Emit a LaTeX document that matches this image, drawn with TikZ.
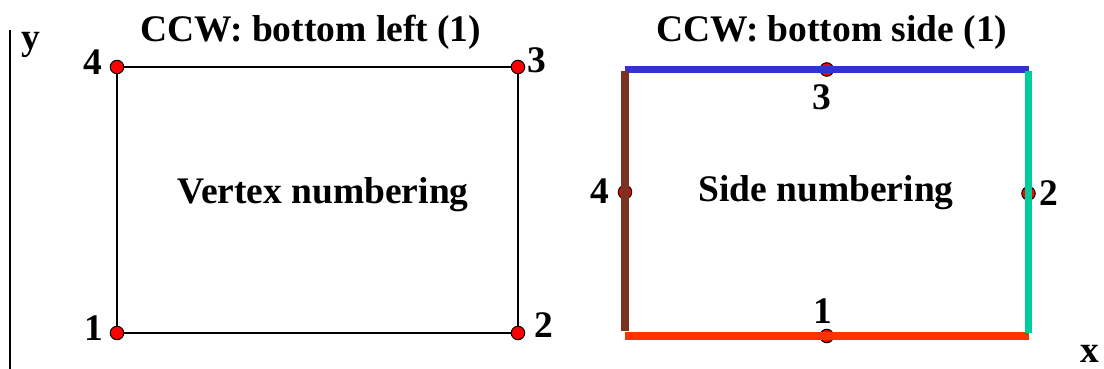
\documentclass[tikz,border=0pt]{standalone}
\usepackage{fontspec}
\setmainfont{Liberation Serif}
\usetikzlibrary{calc}
\definecolor{sideblue}{RGB}{51,51,204}
\definecolor{sidered}{RGB}{255,51,0}
\definecolor{sidebrown}{RGB}{122,51,34}
\definecolor{sidegreen}{RGB}{0,204,153}
\begin{document}
\begin{tikzpicture}[x=1pt,y=-1pt,
  lbl/.style={anchor=base,inner sep=0pt,font=\fontsize{37.5}{40}\selectfont\bfseries},
  dot/.style={circle,draw=black,fill=red,line width=1pt,minimum size=13.5pt,inner sep=0pt},
  edge/.style={draw=black,line width=1.6pt},
  side/.style={line width=7.5pt},
  axis/.style={draw=black,line width=1.6pt}]
\useasboundingbox (0,0) rectangle (1104,369);

% axes
\coordinate (ytop) at (10,30);
\coordinate (ybot) at (10,369);
\draw[axis] (ytop) -- (ybot);
\node[lbl] (ylab) at (31,50) {y};
\node[lbl] (xlab) at (1090,362) {x};

% vertex numbering box
\coordinate (c1) at (117,333);
\coordinate (c2) at (518,333);
\coordinate (c3) at (518,67);
\coordinate (c4) at (117,67);
\draw[edge] (c1) -- (c2) -- (c3) -- (c4) -- cycle;
\node[dot] (v1) at (c1) {};
\node[dot] (v2) at (c2) {};
\node[dot] (v3) at (c3) {};
\node[dot] (v4) at (c4) {};
\node[lbl] (n1) at (93.5,340) {1};
\node[lbl] (n2) at (543.5,337) {2};
\node[lbl] (n3) at (537,73) {3};
\node[lbl] (n4) at (93,75) {4};
\node[lbl] (tleft) at (311,42) {CCW: bottom left (1)};
\node[lbl] (vnum) at (323,203) {Vertex numbering};

% side numbering box: midpoint dots sit beneath the coloured sides
\coordinate (r1) at (625,336);
\coordinate (r2) at (1028.5,336);
\coordinate (r3) at (1028.5,69.5);
\coordinate (r4) at (625,69.5);
\node[dot] (s1) at ($(r1)!0.5!(r2)$) {};
\node[dot] (s2) at ($(r2)!0.535!(r3)$) {};
\node[dot] (s3) at ($(r3)!0.5!(r4)$) {};
\node[dot] (s4) at ($(r4)!0.46!(r1)$) {};
\draw[side,sideblue] (r3) -- (r4);
\draw[side,sidered] (r1) -- (r2);
\draw[side,sidebrown] ([yshift=5pt]r1) -- ([yshift=-1.5pt]r4);
\draw[side,sidegreen] ([yshift=3pt]r2) -- ([yshift=-1.5pt]r3);
\node[lbl] (m1) at (823,323) {1};
\node[lbl] (m2) at (1049,205) {2};
\node[lbl] (m3) at (822,110) {3};
\node[lbl] (m4) at (600,203) {4};
\node[lbl] (tright) at (832,42) {CCW: bottom side (1)};
\node[lbl] (snum) at (826,201) {Side numbering};
\end{tikzpicture}
\end{document}
